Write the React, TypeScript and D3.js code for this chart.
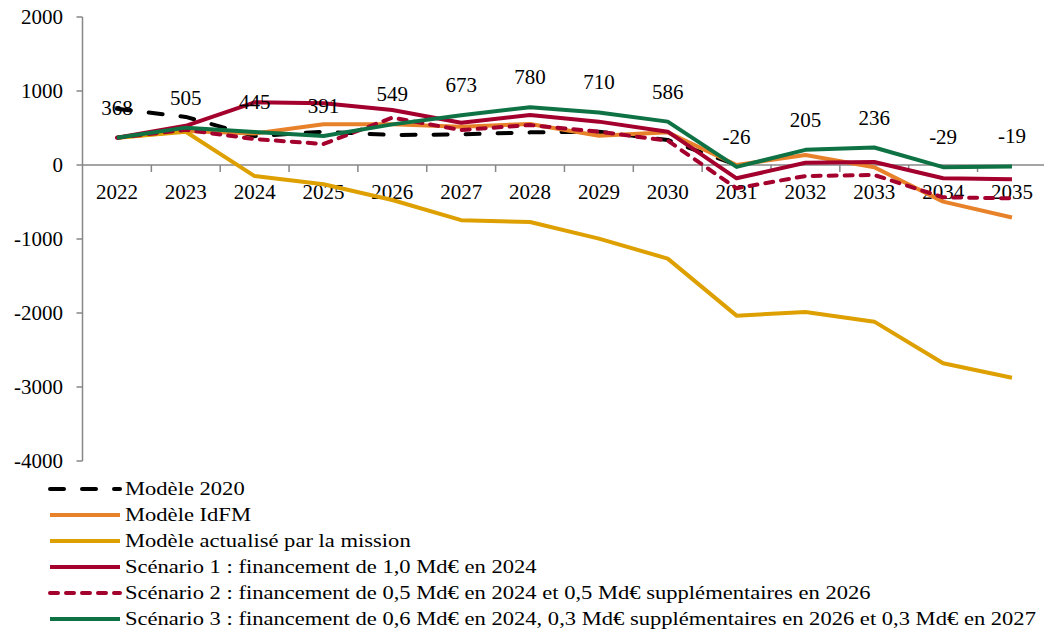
import React from "react";
import * as d3 from "d3";

const years = ["2022","2023","2024","2025","2026","2027","2028","2029","2030","2031","2032","2033","2034","2035"];
const yTicks = [2000, 1000, 0, -1000, -2000, -3000, -4000];

const modele2020 = [760, 650, 390, 450, 405, 414, 441, 450, 338, 0];
const modeleIdfm = [368, 460, 425, 550, 550, 518, 554, 396, 441, 0, 135, -31, -495, -710];
const modeleActualise = [368, 450, -150, -260, -473, -745, -770, -995, -1265, -2036, -1986, -2117, -2680, -2874];
const scenario1 = [368, 530, 847, 833, 743, 572, 676, 586, 450, -180, 31, 40, -180, -193];
const scenario2 = [368, 475, 350, 284, 640, 473, 540, 450, 329, -315, -149, -135, -437, -450];
const scenario3 = [368, 505, 445, 391, 549, 673, 780, 710, 586, -26, 205, 236, -29, -19];

const seriesNames = [
  "Modèle 2020",
  "Modèle IdFM",
  "Modèle actualisé par la mission",
  "Scénario 1 : financement de 1,0 Md€ en 2024",
  "Scénario 2 : financement de 0,5 Md€ en 2024 et 0,5 Md€ supplémentaires en 2026",
  "Scénario 3 : financement de 0,6 Md€ en 2024, 0,3 Md€ supplémentaires en 2026 et 0,3 Md€ en 2027",
];
const seriesValues = [modele2020, modeleIdfm, modeleActualise, scenario1, scenario2, scenario3];
const seriesColors = ["#000000", "#E8822A", "#DDA000", "#A3002D", "#A3002D", "#0E7244"];
const seriesDash = ["14 18", null, null, null, "8 8", null];

const FONT = "'Liberation Serif', 'Times New Roman', serif";

export default function App() {
  const left = 82.5;
  const band = 68.85;
  const x = d3.scaleBand<string>().domain(years).range([left, left + band * years.length]);
  const y = d3.scaleLinear().domain([-4000, 2000]).range([461, 17]);
  const cx = (i: number) => (x(years[i]) as number) + x.bandwidth() / 2;
  const line = d3.line<number>().x((_, i) => cx(i)).y((d) => y(d));
  const axisColor = "#878787";
  const legendX = 125;
  const legendStretch = 1.22;

  return (
    <svg width={1044} height={635} style={{ position: "absolute", left: 0, top: 0, background: "#fff" }} fontFamily={FONT}>
      {/* y axis */}
      <line x1={left} x2={left} y1={y(2000)} y2={y(-4000)} stroke={axisColor} strokeWidth={1.5} />
      {yTicks.map((t) => (
        <g key={t}>
          <line x1={left - 6} x2={left} y1={y(t)} y2={y(t)} stroke={axisColor} strokeWidth={1.5} />
          <text x={63} y={y(t) + 7} textAnchor="end" fontSize={21} fill="#000">{t}</text>
        </g>
      ))}
      {/* x axis */}
      <line x1={left} x2={1044} y1={y(0)} y2={y(0)} stroke={axisColor} strokeWidth={1.5} />
      {years.map((yr, i) => (
        <g key={yr}>
          {i > 0 && (
            <line x1={x(yr) as number} x2={x(yr) as number} y1={y(0)} y2={y(0) + 7} stroke={axisColor} strokeWidth={1.5} />
          )}
          <text x={cx(i)} y={199} textAnchor="middle" fontSize={21} fill="#000">{yr}</text>
        </g>
      ))}
      {/* series */}
      {seriesValues.map((vals, si) => (
        <path
          key={si}
          d={line(vals) || ""}
          fill="none"
          stroke={seriesColors[si]}
          strokeWidth={4}
          strokeLinejoin="round"
          strokeLinecap={seriesDash[si] ? "round" : "butt"}
          strokeDasharray={seriesDash[si] || undefined}
        />
      ))}
      {/* data labels for scenario 3 */}
      {scenario3.map((v, i) => (
        <text key={i} x={cx(i)} y={y(v) - 23} textAnchor="middle" fontSize={21} fill="#000">{v}</text>
      ))}
      {/* legend */}
      {seriesNames.map((name, i) => {
        const ly = 489 + i * 26;
        return (
          <g key={name}>
            <line
              x1={50}
              x2={120}
              y1={ly}
              y2={ly}
              stroke={seriesColors[i]}
              strokeWidth={4}
              strokeLinecap={seriesDash[i] ? "round" : "butt"}
              strokeDasharray={seriesDash[i] || undefined}
            />
            <g transform={`translate(${legendX},0) scale(${legendStretch},1)`}>
              <text x={0} y={ly + 6} fontSize={18.5} fill="#000">{name}</text>
            </g>
          </g>
        );
      })}
    </svg>
  );
}
